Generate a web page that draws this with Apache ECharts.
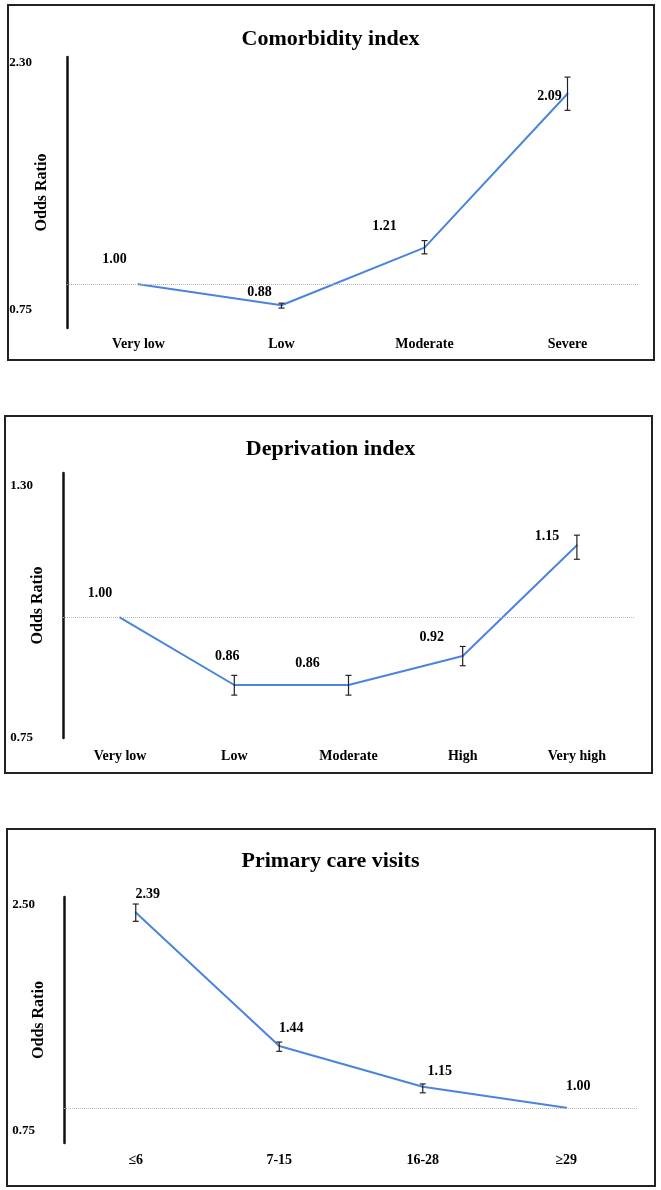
<!DOCTYPE html>
<html lang="en">
<head>
<meta charset="utf-8">
<title>Odds ratios</title>
<script src="https://cdn.jsdelivr.net/npm/echarts@6/dist/echarts.min.js"></script>
<style>
  body { margin: 0; background: #fff; }
  .box { position: absolute; border: 2px solid #222; box-sizing: border-box; }
  #main { position: absolute; left: 0; top: 0; width: 661px; height: 1190px; z-index: 1; }
</style>
</head>
<body>
<div class="box" style="left:7px;top:4px;width:648px;height:357px"></div>
<div class="box" style="left:4px;top:415px;width:649px;height:359px"></div>
<div class="box" style="left:6px;top:828px;width:650px;height:359px"></div>
<div id="main"></div>
<script>
// panel 1 - comorbidity
var comorbCats = ['Very low', 'Low', 'Moderate', 'Severe'];
var comorbOR = [1.00, 0.88, 1.21, 2.09];
var comorbLow = [null, 0.864, 1.174, 1.995];
var comorbHigh = [null, 0.892, 1.250, 2.185];
var comorbTicks = [0.75, 2.30];

// panel 2 - deprivation
var deprivCats = ['Very low', 'Low', 'Moderate', 'High', 'Very high'];
var deprivOR = [1.00, 0.86, 0.86, 0.92, 1.15];
var deprivLow = [null, 0.839, 0.839, 0.900, 1.121];
var deprivHigh = [null, 0.880, 0.880, 0.940, 1.171];
var deprivTicks = [0.75, 1.30];

// panel 3 - primary care visits
var visitCats = ['≤6', '7-15', '16-28', '≥29'];
var visitOR = [2.39, 1.44, 1.15, 1.00];
var visitLow = [2.327, 1.402, 1.107, null];
var visitHigh = [2.450, 1.468, 1.170, null];
var visitTicks = [0.75, 2.50];

var FONT = '"Liberation Serif", "Times New Roman", serif';
var BLUE = '#4a84dc';

var panels = [
  { title: 'Comorbidity index', titleTop: 23, cats: comorbCats, or: comorbOR, lo: comorbLow, hi: comorbHigh, ticks: comorbTicks,
    grid: { left: 67, right: 22, top: 57, height: 271 }, labelMargin: 35, xMargin: 9,
    maxPad: 12, minPad: 36,
    offsets: [[-24, -25], [-22, -13], [-40, -21], [-18, 3]] },
  { title: 'Deprivation index', titleTop: 433, cats: deprivCats, or: deprivOR, lo: deprivLow, hi: deprivHigh, ticks: deprivTicks,
    grid: { left: 63, right: 27, top: 473, height: 265 }, labelMargin: 30, xMargin: 11,
    maxPad: 26, minPad: 0,
    offsets: [[-20, -24], [-7, -29], [-41, -22], [-31, -19], [-30, -9]] },
  { title: 'Primary care visits', titleTop: 845, cats: visitCats, or: visitOR, lo: visitLow, hi: visitHigh, ticks: visitTicks,
    grid: { left: 64, right: 23, top: 897, height: 246 }, labelMargin: 29, xMargin: 10,
    maxPad: 16, minPad: 24,
    offsets: [[12, -18], [12, -18], [17, -15], [12, -21]] }
];

var option = { animation: false, title: [], grid: [], xAxis: [], yAxis: [], series: [] };

panels.forEach(function (p, i) {
  var tMin = p.ticks[0], tMax = p.ticks[1];
  option.title.push({
    text: p.title, left: 'center', top: p.titleTop,
    textStyle: { fontFamily: FONT, fontSize: 22, fontWeight: 'bold', color: '#000' }
  });
  var g = Object.assign({ containLabel: false, outerBoundsMode: 'none' }, p.grid);
  option.grid.push(g);
  option.xAxis.push({
    type: 'category', gridIndex: i, data: p.cats, boundaryGap: true,
    axisLine: { show: false }, axisTick: { show: false },
    axisLabel: { margin: p.xMargin, fontFamily: FONT, fontSize: 14, fontWeight: 'bold', color: '#000' }
  });
  option.yAxis.push({
    type: 'value', gridIndex: i, min: tMin, max: tMax,
    name: 'Odds Ratio', nameLocation: 'middle', nameGap: 17, nameMoveOverlap: false,
    nameTextStyle: { fontFamily: FONT, fontSize: 16, fontWeight: 'bold', color: '#000' },
    axisLine: { show: true, lineStyle: { color: '#111', width: 2.5 } },
    axisTick: { show: false }, splitLine: { show: false },
    axisLabel: {
      customValues: p.ticks, margin: p.labelMargin,
      formatter: function (v) {
        return (v === tMax ? '{hi|' : '{lo|') + v.toFixed(2) + '}';
      },
      rich: {
        hi: { fontFamily: FONT, fontSize: 13, fontWeight: 'bold', color: '#000', padding: [p.maxPad, 0, 0, 0] },
        lo: { fontFamily: FONT, fontSize: 13, fontWeight: 'bold', color: '#000', padding: [0, 0, p.minPad, 0] }
      }
    }
  });
  option.series.push({
    type: 'line', xAxisIndex: i, yAxisIndex: i,
    data: p.or.map(function (v, k) {
      return { value: v, label: { offset: p.offsets[k] } };
    }),
    symbol: 'circle', symbolSize: 2,
    itemStyle: { color: BLUE },
    lineStyle: { color: BLUE, width: 2 },
    label: {
      show: true, position: 'inside',
      fontFamily: FONT, fontSize: 14, fontWeight: 'bold', color: '#000',
      formatter: function (d) { return d.value.toFixed(2); }
    },
    markLine: {
      silent: true, symbol: 'none', label: { show: false },
      lineStyle: { color: '#b8b8b8', type: 'dotted', width: 1 },
      data: [{ yAxis: 1 }]
    },
    emphasis: { disabled: true }
  });
  var ci = [];
  p.or.forEach(function (v, k) {
    if (p.lo[k] != null) ci.push([k, p.lo[k], p.hi[k]]);
  });
  option.series.push({
    type: 'custom', xAxisIndex: i, yAxisIndex: i, data: ci, z: 5,
    renderItem: function (params, api) {
      var a = api.coord([api.value(0), api.value(1)]);
      var b = api.coord([api.value(0), api.value(2)]);
      var w = 3;
      var st = { stroke: '#222', lineWidth: 1.2 };
      return {
        type: 'group',
        children: [
          { type: 'line', shape: { x1: a[0], y1: a[1], x2: b[0], y2: b[1] }, style: st },
          { type: 'line', shape: { x1: a[0] - w, y1: a[1], x2: a[0] + w, y2: a[1] }, style: st },
          { type: 'line', shape: { x1: b[0] - w, y1: b[1], x2: b[0] + w, y2: b[1] }, style: st }
        ]
      };
    }
  });
});

var chart = echarts.init(document.getElementById('main'));
chart.setOption(option);
</script>
</body>
</html>
